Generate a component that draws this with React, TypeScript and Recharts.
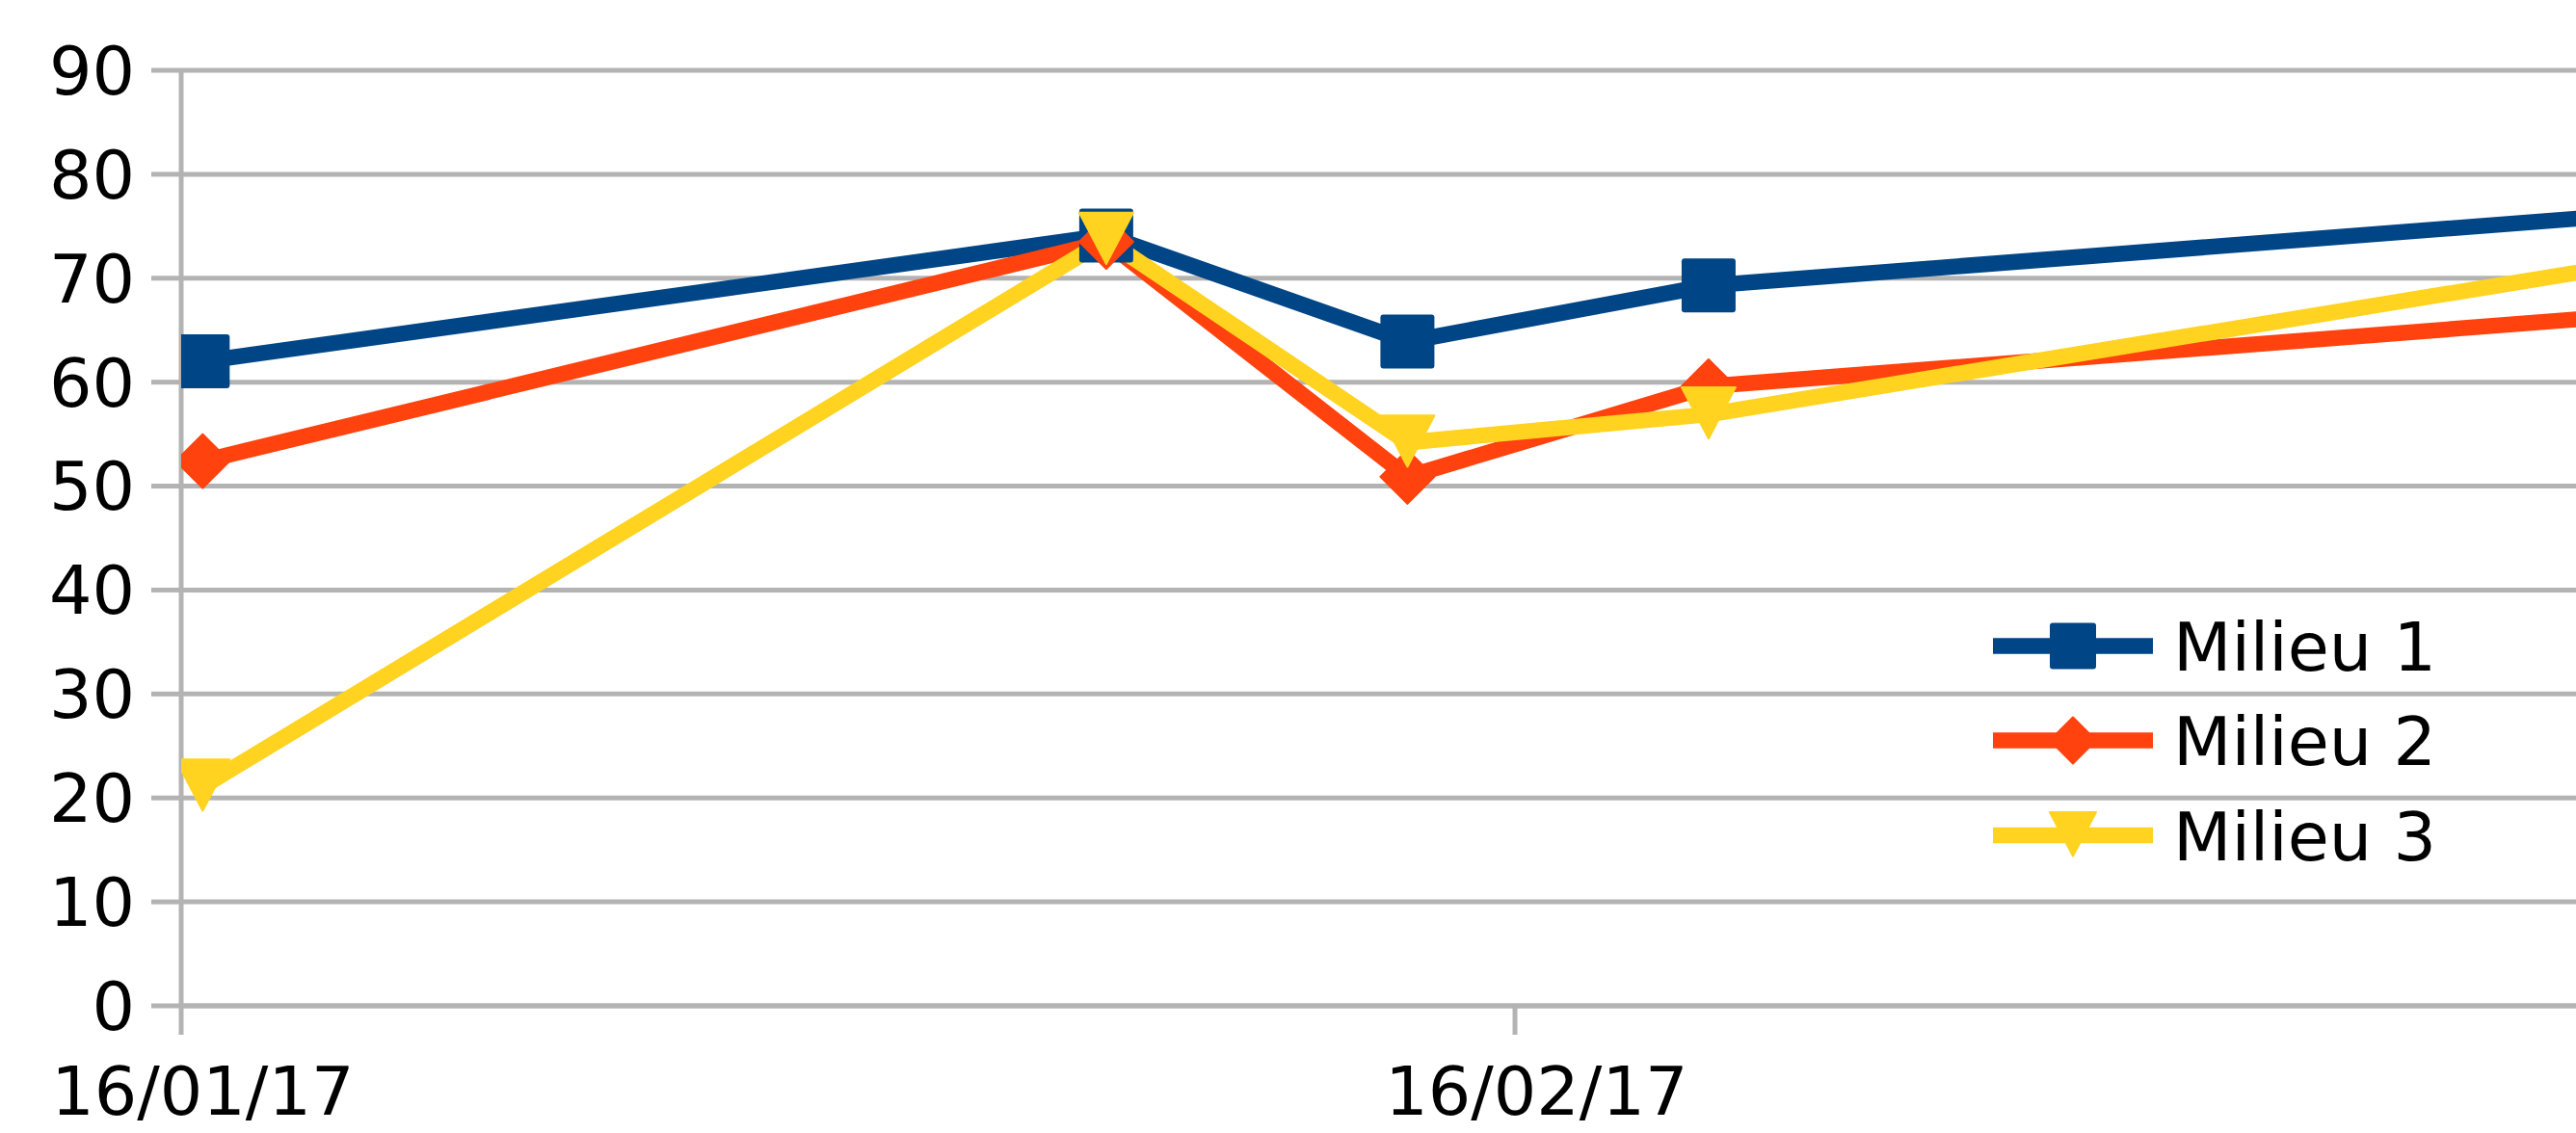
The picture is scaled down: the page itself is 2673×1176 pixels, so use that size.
import React from "react";
import {
  CartesianGrid,
  Line,
  LineChart,
  XAxis,
  YAxis,
} from "recharts";

// dates as days since 16/01/17
const DATES = ["16/01/17", "06/02/17", "13/02/17", "20/02/17", "13/03/17"];
const DAYS = [0, 21, 28, 35, 56];

const MILIEU_1 = [62, 74.1, 63.9, 69.3, 76];
const MILIEU_2 = [52.4, 73.5, 50.9, 59.6, 66.3];
const MILIEU_3 = [21.1, 73.7, 54.2, 56.9, 71.1];

const X_TICKS = [0, 31];
const X_TICK_LABELS = ["16/01/17", "16/02/17"];
const Y_TICKS = [0, 10, 20, 30, 40, 50, 60, 70, 80, 90];

const SERIES = [
  { key: "m1", name: "Milieu 1", color: "#004586", shape: "square" },
  { key: "m2", name: "Milieu 2", color: "#ff420e", shape: "diamond" },
  { key: "m3", name: "Milieu 3", color: "#ffd320", shape: "triangle" },
];

const W = 2673;
const H = 1176;
const Y_AXIS_W = 188;
const X_END = 55.66; // visible part of the date axis, in days
const GRID = "#b3b3b3";
const FONT = "'DejaVu Sans', sans-serif";
const FS = 70;
const HALF_DAY_PX = (W - Y_AXIS_W) / X_END / 2;

// points sit in the middle of their day (date axis)
const data = DAYS.map((d, i) => ({
  x: d + 0.5,
  date: DATES[i],
  m1: MILIEU_1[i],
  m2: MILIEU_2[i],
  m3: MILIEU_3[i],
}));

function Marker({ shape, cx, cy, color, s }: { shape: string; cx: number; cy: number; color: string; s: number }) {
  const h = s / 2;
  if (shape === "square")
    return <rect x={cx - h} y={cy - h} width={s} height={s} rx={3} fill={color} />;
  if (shape === "diamond")
    return (
      <polygon
        points={`${cx},${cy - h} ${cx + h},${cy} ${cx},${cy + h} ${cx - h},${cy}`}
        fill={color}
        stroke={color}
        strokeWidth={2}
        strokeLinejoin="round"
      />
    );
  return (
    <polygon
      points={`${cx - h},${cy - h} ${cx + h},${cy - h} ${cx},${cy + h * 0.9}`}
      fill={color}
      stroke={color}
      strokeWidth={2}
      strokeLinejoin="round"
    />
  );
}

function DateTick(props: any) {
  const { x, y, payload } = props;
  const idx = X_TICKS.indexOf(payload.value);
  return (
    <text x={x + HALF_DAY_PX} y={y} dy="0.71em" textAnchor="middle" fontSize={FS} fontFamily={FONT} fill="#000">
      {X_TICK_LABELS[idx]}
    </text>
  );
}

function LegendBox() {
  const rows = [670.5, 768.5, 867];
  const top = 560;
  return (
    <svg width={560} height={400} style={{ position: "absolute", left: 2040, top }}>
      {SERIES.map((s, i) => {
        const y = rows[i] - top;
        return (
          <g key={s.key}>
            <line x1={28} x2={194} y1={y} y2={y} stroke={s.color} strokeWidth={16.5} />
            <Marker shape={s.shape} cx={111} cy={y} color={s.color} s={48} />
            <text x={215} y={y} dy="0.365em" fontSize={FS} fontFamily={FONT} fill="#000">
              {s.name}
            </text>
          </g>
        );
      })}
    </svg>
  );
}

export default function App() {
  return (
    <div style={{ position: "absolute", left: 0, top: 0, width: W, height: H, background: "#fff", overflow: "hidden" }}>
      <LineChart width={W} height={H} data={data} margin={{ top: 73, right: 0, bottom: 0, left: 0 }}>
        <CartesianGrid vertical={false} stroke={GRID} strokeWidth={5} />
        <XAxis
          type="number"
          dataKey="x"
          domain={[0, X_END]}
          allowDataOverflow
          ticks={X_TICKS}
          interval={0}
          height={132}
          tickSize={30}
          tickMargin={33}
          axisLine={{ stroke: GRID, strokeWidth: 5 }}
          tickLine={{ stroke: GRID, strokeWidth: 5 }}
          tick={<DateTick />}
        />
        <YAxis
          type="number"
          domain={[0, 90]}
          ticks={Y_TICKS}
          interval={0}
          width={Y_AXIS_W}
          tickSize={31}
          tickMargin={17}
          axisLine={{ stroke: GRID, strokeWidth: 5 }}
          tickLine={{ stroke: GRID, strokeWidth: 5 }}
          tick={{ fontSize: FS, fontFamily: FONT, fill: "#000" }}
        />
        {SERIES.map((s) => (
          <Line
            key={s.key}
            type="linear"
            dataKey={s.key}
            name={s.name}
            stroke={s.color}
            strokeWidth={16.5}
            strokeLinejoin="round"
            isAnimationActive={false}
            dot={(p: any) => (
              <Marker key={`${s.key}-${p.index}`} shape={s.shape} cx={p.cx} cy={p.cy} color={s.color} s={56} />
            )}
            activeDot={false}
          />
        ))}
      </LineChart>
      <LegendBox />
    </div>
  );
}
